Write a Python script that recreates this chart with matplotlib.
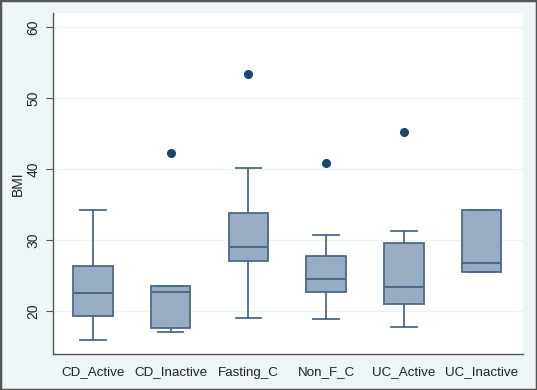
import matplotlib
matplotlib.use("Agg")
import matplotlib.pyplot as plt
from matplotlib.patches import Rectangle

plt.rcParams['font.family'] = ['Liberation Sans', 'DejaVu Sans']

categories = ["CD_Active", "CD_Inactive", "Fasting_C", "Non_F_C", "UC_Active", "UC_Inactive"]
whisker_low = [15.9, 16.95, 19.0, 18.8, 17.75, 25.5]
q1 = [19.2, 17.6, 27.0, 22.7, 21.0, 25.5]
median = [22.5, 22.7, 29.0, 24.5, 23.3, 26.8]
q3 = [26.3, 23.5, 33.8, 27.7, 29.5, 34.2]
whisker_high = [34.2, 23.5, 40.2, 30.7, 31.2, 34.2]
outliers = [[], [42.3], [53.4], [40.9], [45.2], []]
yticks = [20, 30, 40, 50, 60]

fill = "#98adc3"
edge = "#4b6a89"
dot = "#1a476f"

fig = plt.figure(figsize=(5.37, 3.90), dpi=100, facecolor="#eef5f7")
ax = fig.add_axes([0.0987, 0.0923, 0.875, 0.8744])
ax.set_facecolor("white")

stats = []
for i, c in enumerate(categories):
    stats.append(dict(label=c, whislo=whisker_low[i], q1=q1[i], med=median[i],
                      q3=q3[i], whishi=whisker_high[i], fliers=outliers[i]))

ax.bxp(stats, positions=range(1, len(categories) + 1), widths=0.51,
       patch_artist=True, showfliers=True,
       boxprops=dict(facecolor=fill, edgecolor=edge, linewidth=1.3),
       medianprops=dict(color=edge, linewidth=1.5),
       whiskerprops=dict(color=edge, linewidth=1.3),
       capprops=dict(color=edge, linewidth=1.3),
       capwidths=0.33,
       flierprops=dict(marker="o", markerfacecolor=dot, markeredgecolor=dot, markersize=5.5))

ax.set_xlim(0.487, 6.53)
ax.set_ylim(13.9, 62)
ax.set_yticks(yticks)
ax.set_yticklabels([str(t) for t in yticks], rotation=90, va="center", fontsize=10, color="#222222")
ax.tick_params(axis="y", direction="out", length=5, color="#555555", pad=4)
ax.tick_params(axis="x", length=0, labelsize=9.6, pad=9, labelcolor="#222222")
ax.yaxis.grid(True, color="#eef3f4", linewidth=0.9)
ax.set_axisbelow(True)
for s in ["top", "right"]:
    ax.spines[s].set_visible(False)
for s in ["left", "bottom"]:
    ax.spines[s].set_color("#555555")
    ax.spines[s].set_linewidth(1.0)
ax.set_ylabel("BMI", fontsize=10, color="#222222", labelpad=1)

fig.patches.append(Rectangle((0, 0), 1, 1, transform=fig.transFigure, fill=False,
                             edgecolor="#555555", linewidth=2.5, zorder=10))

fig.savefig("out.png", dpi=100, facecolor=fig.get_facecolor())
